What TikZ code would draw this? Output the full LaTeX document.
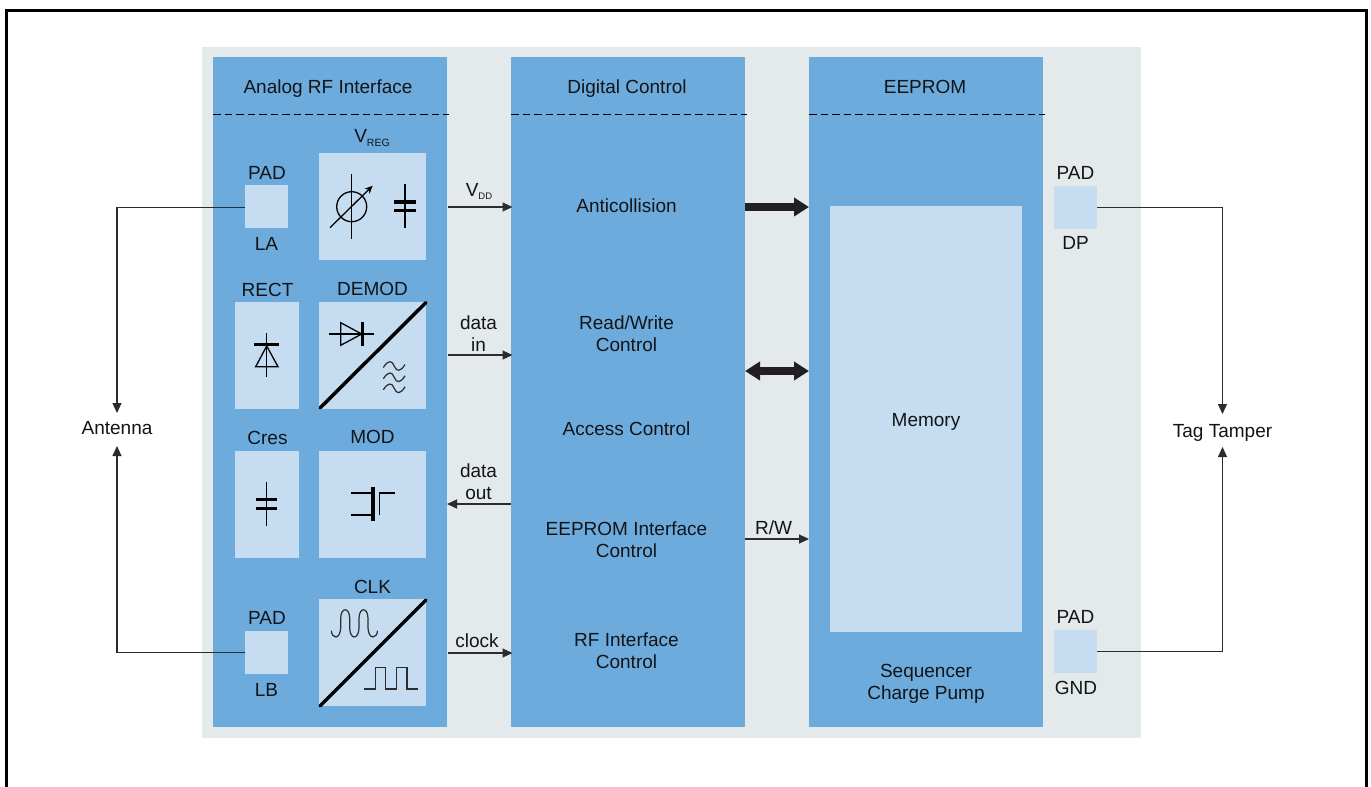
\documentclass[tikz,border=0pt]{standalone}
\usepackage{fontspec}
\setmainfont{Liberation Sans}
\usetikzlibrary{arrows.meta}
\definecolor{panel}{HTML}{E4E9EC}
\definecolor{blockblue}{HTML}{6EABDD}
\definecolor{lightblue}{HTML}{C6DCF0}
\definecolor{ink}{HTML}{111518}
\definecolor{wire}{HTML}{2A2C2E}
\definecolor{bus}{HTML}{231F20}
\newcommand{\bx}[5]{\node[#5,minimum width=#3pt,minimum height=#4pt] (#1) at (#2) {};}
\tikzset{
  panelbox/.style={fill=panel,draw=none,inner sep=0pt,outer sep=0pt},
  block/.style={fill=blockblue,draw=none,inner sep=0pt,outer sep=0pt},
  lightbox/.style={fill=lightblue,draw=none,inner sep=0pt,outer sep=0pt},
  lbl/.style={inner sep=0pt,outer sep=0pt,text=ink,align=center,font=\fontsize{19}{22}\selectfont,text height=13.5pt,text depth=4pt,yshift=-2pt},
  hub/.style={inner sep=0pt,outer sep=0pt,text=ink,align=center,font=\fontsize{19}{22}\selectfont,text height=13.5pt,text depth=4pt,minimum height=33pt},
  conn/.style={draw=wire,line width=1.1pt,-{Triangle[length=10pt,width=9pt]}},
  connr/.style={conn,shorten <=1pt,shorten >=-1.5pt},
  fatbus/.style={draw=bus,line width=8.5pt,-{Triangle[length=15pt,width=18pt]}},
  fatbusboth/.style={draw=bus,line width=8.5pt,{Triangle[length=15pt,width=18pt]}-{Triangle[length=15pt,width=18pt]}},
  sep/.style={draw=black,line width=1pt,dash pattern=on 7.5pt off 4pt},
  sym/.style={draw=black,line width=1.3pt},
  symthick/.style={draw=black,line width=3.5pt},
  symthin/.style={draw=wire,line width=1.2pt},
}
\begin{document}
\begin{tikzpicture}[x=1pt,y=-1pt]
\useasboundingbox (0,0) rectangle (1371,787);
\fill[white] (0,0) rectangle (1371,787);
\draw[black,line width=3pt,line join=miter] (6,787) -- (6,10.5) -- (1366,10.5) -- (1366,787);
% panels
\bx{bg}{671.5,392.5}{939}{691}{panelbox}
\bx{rf}{330,392}{234}{670}{block}
\bx{dc}{628,392}{234}{670}{block}
\bx{ee}{926,392}{234}{670}{block}
% header rules
\draw[sep] (rf.west |- 0,114) -- (449,114);
\draw[sep] (dc.west |- 0,114) -- (747,114);
\draw[sep] (ee.west |- 0,114) -- (1045,114);
% light boxes
\bx{padla}{266.5,206.5}{43}{43}{lightbox}
\bx{vreg}{372.5,206.5}{107}{107}{lightbox}
\bx{rect}{267,355.5}{64}{107}{lightbox}
\bx{demod}{372.5,355.5}{107}{107}{lightbox}
\bx{cres}{267,504.5}{64}{107}{lightbox}
\bx{mod}{372.5,504.5}{107}{107}{lightbox}
\bx{padlb}{266.5,652.5}{43}{43}{lightbox}
\bx{clk}{372.5,652.5}{107}{107}{lightbox}
\bx{mem}{926,419}{192}{426}{lightbox}
\bx{paddp}{1075.5,207.5}{43}{43}{lightbox}
\bx{padgnd}{1075.5,651.5}{43}{43}{lightbox}
% headers
\node[lbl] (t1) at (328,87) {Analog RF Interface};
\node[lbl] (t2) at (627,87) {Digital Control};
\node[lbl] (t3) at (925,87) {EEPROM};
% left labels
\node[lbl] (t4) at (267,172.5) {PAD};
\node[lbl] (t5) at (266.5,243.5) {LA};
\node[lbl] (t6) at (372,136) {V\raisebox{-4pt}{\fontsize{10.5}{12}\selectfont REG}};
\node[lbl] (t7) at (267.5,289.5) {RECT};
\node[lbl] (t8) at (372.5,288.5) {DEMOD};
\node[lbl] (t9) at (267.5,437.5) {Cres};
\node[lbl] (t10) at (372.5,436.5) {MOD};
\node[lbl] (t11) at (267,617.5) {PAD};
\node[lbl] (t12) at (266.5,689.5) {LB};
\node[lbl] (t13) at (372.5,586.5) {CLK};
% digital control
\node[lbl] (d1) at (626.5,205.5) {Anticollision};
\node[lbl] (d2) at (626.5,344.5) {Read/Write\\Control};
\node[lbl] (d3) at (626.5,428.5) {Access Control};
\node[lbl] (d4) at (626.5,550.5) {EEPROM Interface\\Control};
\node[lbl] (d5) at (626.5,661.5) {RF Interface\\Control};
% eeprom
\node[lbl] (m1) at (926,419.5) {Memory};
\node[lbl] (m2) at (926,692.5) {Sequencer\\Charge Pump};
\node[lbl] (p1) at (1075.5,172.5) {PAD};
\node[lbl] (p2) at (1075.5,242.5) {DP};
\node[lbl] (p3) at (1075.5,616.5) {PAD};
\node[lbl] (p4) at (1076,687.5) {GND};
% outside
\node[hub] (ant) at (117,429.5) {Antenna};
\node[hub,text depth=0pt] (tag) at (1222.5,430.5) {Tag Tamper};
% connector labels
\node[lbl] (c1) at (479,189.5) {V\raisebox{-3.5pt}{\fontsize{9.5}{11}\selectfont DD}};
\node[lbl] (c2) at (478.5,344.5) {data\\in};
\node[lbl] (c3) at (478.5,492.5) {data\\out};
\node[lbl] (c4) at (477,640.5) {clock};
\node[lbl] (c5) at (773.5,527.5) {R/W};
% connectors
\draw[conn] (padla.west |- 0,207.5) -| (ant.north);
\draw[conn] (padlb.west) -| (ant.south);
\draw[conn] (paddp.east) -| (tag.north);
\draw[conn] (padgnd.east) -| (tag.south);
\draw[connr] (rf.east |- 0,207) -- (dc.west |- 0,207);
\draw[connr] (rf.east |- 0,355) -- (dc.west |- 0,355);
\draw[conn] (dc.west |- 0,504) -- (rf.east |- 0,504);
\draw[connr] (rf.east |- 0,653) -- (dc.west |- 0,653);
\draw[conn] (dc.east |- 0,539) -- (ee.west |- 0,539);
\draw[fatbus] (dc.east |- 0,207) -- (ee.west |- 0,207);
\draw[fatbusboth] (dc.east |- 0,371) -- (ee.west |- 0,371);
% VREG symbols
\draw[sym] (351.7,206.7) circle (15);
\draw[sym] (351.7,174) -- (351.7,239);
\draw[sym,-{Stealth[length=8pt,width=7pt]}] (330,227.7) -- (372.7,185.7);
\draw[sym] (405,184.3) -- (405,228.3);
\draw[symthick] (394.3,202) -- (415.7,202);
\draw[symthick] (394.3,210.7) -- (415.7,210.7);
% RECT symbol
\draw[sym] (266.7,333.3) -- (266.7,377.3);
\draw[symthick] (254.3,344.7) -- (279,344.7);
\draw[sym,line join=miter] (266.7,346) -- (255.7,366.7) -- (278,366.7) -- cycle;
% DEMOD symbols
\draw[symthick,line cap=round] (320,408) -- (426,302.5);
\draw[sym] (329.3,334) -- (373.7,334);
\draw[sym] (340.7,322.7) -- (340.7,345.3) -- (361.7,334) -- cycle;
\draw[symthick] (362.3,322) -- (362.3,346);
\foreach \yy in {366,377.3,388.3}{
  \draw[symthin] (383.3,\yy+1.5) .. controls (388,\yy-6) and (392,\yy-6) .. (394.2,\yy) .. controls (396.5,\yy+6) and (400.5,\yy+6) .. (405,\yy-1.5);
}
% Cres symbol
\draw[sym] (266.7,482) -- (266.7,526);
\draw[symthick] (256,499.7) -- (277.3,499.7);
\draw[symthick] (256,508.3) -- (277.3,508.3);
% MOD symbol
\draw[symthick] (373,487.3) -- (373,520.7);
\draw[sym] (351,493) -- (373,493);
\draw[sym] (351,515) -- (373,515);
\draw[sym] (379.3,515) -- (379.3,493) -- (395,493);
% CLK symbols
\draw[symthin] (331.3,630.7) .. controls (332,639) and (340,640) .. (340.7,628)
  -- (340.7,618) .. controls (341,607) and (349.3,607) .. (349.7,618)
  -- (349.7,628) .. controls (350,640) and (358.6,640) .. (359,628)
  -- (359,618) .. controls (359.4,607) and (367.6,607) .. (368,618)
  -- (368,628) .. controls (368.5,640) and (377,639) .. (377.5,630.7);
\draw[symthick,line cap=round] (320,706) -- (426,600);
\draw[symthin] (364,689) -- (375.3,689) -- (375.3,667.7) -- (385.7,667.7) -- (385.7,689) -- (396.3,689) -- (396.3,667.7) -- (407,667.7) -- (407,689) -- (418.3,689);
\end{tikzpicture}
\end{document}
